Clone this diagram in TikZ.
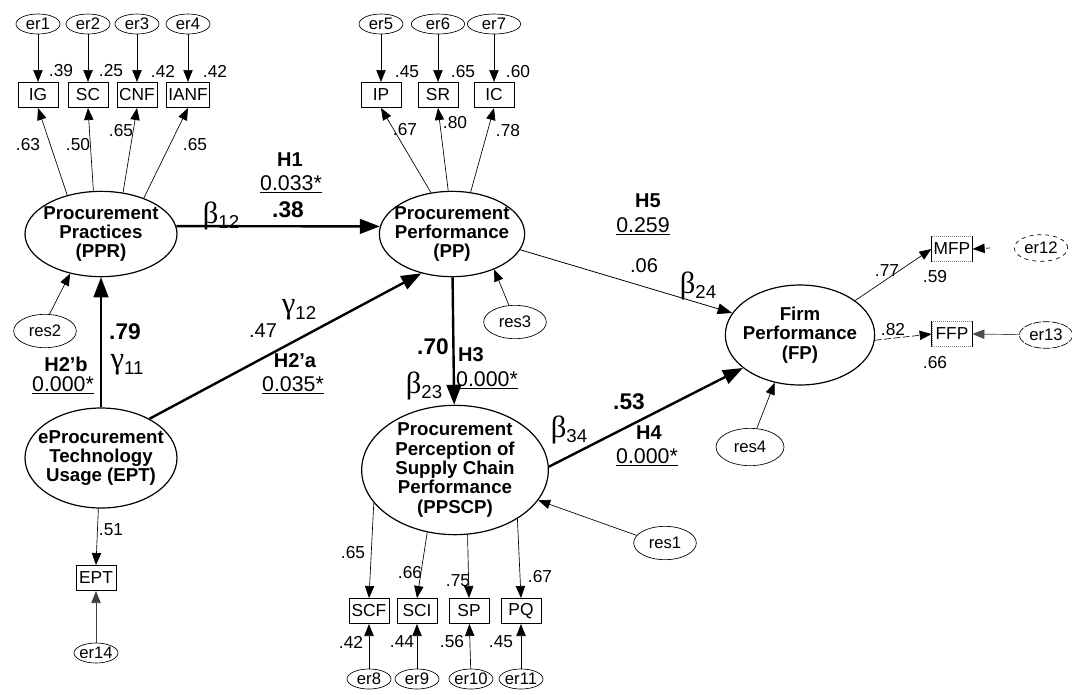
\documentclass[tikz,border=0pt]{standalone}
\usepackage{fontspec}
\setmainfont{Liberation Sans}
\newfontfamily\grkfont{Liberation Serif}
\usetikzlibrary{arrows.meta,shapes.geometric}

% greek path symbol with a sans subscript
\newcommand{\pathsym}[2]{{\grkfont\fontsize{23}{23}\selectfont #1}{\fontsize{14}{14}\selectfont\raisebox{-4pt}{#2}}}

\begin{document}
\begin{tikzpicture}[x=0.75pt, y=-0.75pt, >={Triangle[length=9pt, width=7pt]},
    lat/.style={ellipse, draw, line width=0.9pt, align=center, inner sep=-20pt,
      font=\fontsize{14}{14.5}\selectfont\bfseries},
    obs/.style={rectangle, draw, line width=0.5pt, minimum width=30pt, minimum height=19pt,
      inner sep=1.5pt, font=\fontsize{13}{13}\selectfont},
    err/.style={ellipse, draw, line width=0.5pt, minimum width=33pt, minimum height=15pt,
      inner sep=-5pt, font=\fontsize{12.5}{13}\selectfont},
    res/.style={err, minimum width=47pt, minimum height=25pt},
    lbl/.style={inner sep=0pt, font=\fontsize{13}{13}\selectfont},
    coef/.style={inner sep=0pt, font=\fontsize{17}{17}\selectfont\bfseries},
    hyp/.style={inner sep=0pt, font=\fontsize{15}{15}\selectfont\bfseries},
    pval/.style={inner sep=0pt, font=\fontsize{16}{16}\selectfont},
    struct/.style={line width=1.8pt, -{Triangle[length=15pt, width=11pt]}},
    weak/.style={line width=0.6pt, -{Triangle[length=11pt, width=8pt]}},
    load/.style={line width=0.5pt, ->}]

    \useasboundingbox (0,0) rectangle (1072,694);

    % latent constructs
    \node[lat, minimum width=114pt, minimum height=64pt] (PPR) at (101,234) {Procurement\\Practices\\(PPR)};
    \node[lat, minimum width=109pt, minimum height=64pt] (PP) at (452,234) {Procurement\\Performance\\(PP)};
    \node[lat, minimum width=112pt, minimum height=75pt] (FP) at (800,335) {Firm\\Performance\\(FP)};
    \node[lat, minimum width=114pt, minimum height=75pt] (EPT) at (101,458) {eProcurement\\Technology\\Usage (EPT)};
    \node[lat, minimum width=140pt, minimum height=97pt] (PPSCP) at (455,470) {Procurement\\Perception of\\Supply Chain\\Performance\\(PPSCP)};

    % PPR indicators
    \node[obs] (IG) at (38,95) {IG};
    \node[obs] (SC) at (88,95) {SC};
    \node[obs] (CNF) at (137,95) {CNF};
    \node[obs] (IANF) at (188,95) {IANF};
    \node[err] (er1) at (38,24) {er1};
    \node[err] (er2) at (88,24) {er2};
    \node[err] (er3) at (137,24) {er3};
    \node[err] (er4) at (188,24) {er4};
    \draw[load] (er1) -- (IG);
    \draw[load] (er2) -- (SC);
    \draw[load] (er3) -- (CNF);
    \draw[load] (er4) -- (IANF);
    \draw[load] (PPR.131) -- (IG.south);
    \draw[load] (PPR.100) -- (SC.south);
    \draw[load] (PPR.62) -- (CNF.south);
    \draw[load] (PPR.40) -- (IANF.south);
    \node[lbl] (vIG) at (61,71) {.39};
    \node[lbl] (vSC) at (111,71) {.25};
    \node[lbl] (vCNF) at (163,71) {.42};
    \node[lbl] (vIANF) at (215,71) {.42};
    \node[lbl] (wIG) at (28,145) {.63};
    \node[lbl] (wSC) at (78,145) {.50};
    \node[lbl] (wCNF) at (121,131) {.65};
    \node[lbl] (wIANF) at (195,145) {.65};

    % PP indicators
    \node[obs] (IP) at (381,95) {IP};
    \node[obs] (SR) at (438,95) {SR};
    \node[obs] (IC) at (494,95) {IC};
    \node[err] (er5) at (381,24) {er5};
    \node[err, minimum width=40pt] (er6) at (438,24) {er6};
    \node[err, minimum width=40pt] (er7) at (494,24) {er7};
    \draw[load] (er5) -- (IP);
    \draw[load] (er6) -- (SR);
    \draw[load] (er7) -- (IC);
    \draw[load] (PP.117) -- (IP.south);
    \draw[load] (PP.95) -- (SR.south);
    \draw[load] (PP.66) -- (IC.south);
    \node[lbl] (vIP) at (407,72) {.45};
    \node[lbl] (vSR) at (463,72) {.65};
    \node[lbl] (vIC) at (518,72) {.60};
    \node[lbl] (wIP) at (405,130) {.67};
    \node[lbl] (wSR) at (455,123) {.80};
    \node[lbl] (wIC) at (508,131) {.78};

    % FP indicators
    \node[obs, draw=gray, densely dotted] (MFP) at (952,249) {MFP};
    \node[obs, draw=gray, densely dotted] (FFP) at (952,334) {FFP};
    \draw (MFP.north west) -- (MFP.south west) (MFP.north east) -- (MFP.south east);
    \draw (FFP.north west) -- (FFP.south west) (FFP.north east) -- (FFP.south east);
    \node[err, dashed, minimum width=40pt, minimum height=20pt] (er12) at (1041,248) {er12};
    \node[err, dash pattern=on 6pt off 1pt, minimum width=40pt, minimum height=20pt] (er13) at (1046,335) {er13};
    \coordinate (e12tail) at (990,248);
    \draw[load, densely dashed] (e12tail) -- (MFP.east);
    \draw[load, black!70] (er13) -- (FFP.east);
    \draw[load] (FP.32) -- (MFP.west);
    \draw[load, dash pattern=on 5pt off 2pt] (FP.-4) -- (FFP.west);
    \node[lbl] (wMFP) at (887,271) {.77};
    \node[lbl] (vMFP) at (935,277) {.59};
    \node[lbl] (wFFP) at (893,330) {.82};
    \node[lbl] (vFFP) at (935,363) {.66};

    % EPT indicator
    \node[obs] (EPTi) at (96,578) {EPT};
    \node[err] (er14) at (96,653) {er14};
    \draw[load] (EPT.-93) -- (EPTi.north);
    \draw[load, black!75] (er14) -- (EPTi);
    \node[lbl] (wEPT) at (111,530) {.51};

    % PPSCP indicators
    \node[obs] (SCF) at (369,611) {SCF};
    \node[obs] (SCI) at (417,611) {SCI};
    \node[obs] (SP) at (469,611) {SP};
    \node[obs] (PQ) at (521,611) {PQ};
    \node[err] (er8) at (369,679) {er8};
    \node[err] (er9) at (417,679) {er9};
    \node[err] (er10) at (471,679) {er10};
    \node[err] (er11) at (521,679) {er11};
    \draw[load] (er8) -- (SCF);
    \draw[load] (er9) -- (SCI);
    \draw[load] (er10) -- (SP);
    \draw[load] (er11) -- (PQ);
    \draw[load] (PPSCP.202) -- (SCF.north);
    \draw[load] (PPSCP.246) -- (SCI.north);
    \draw[load] (PPSCP.281) -- (SP.north);
    \draw[load] (PPSCP.322) -- (PQ.north);
    \node[lbl] (wSCF) at (353,553) {.65};
    \node[lbl] (wSCI) at (410,573) {.66};
    \node[lbl] (wSP) at (458,581) {.75};
    \node[lbl] (wPQ) at (540,577) {.67};
    \node[lbl] (vSCF) at (351,642) {.42};
    \node[lbl] (vSCI) at (402,642) {.44};
    \node[lbl] (vSP) at (452,642) {.56};
    \node[lbl] (vPQ) at (501,642) {.45};

    % residuals
    \node[res] (res2) at (45,331) {res2};
    \node[res] (res3) at (515,322) {res3};
    \node[res, minimum width=51pt, minimum height=28pt] (res4) at (750,447) {res4};
    \node[res] (res1) at (665,543) {res1};
    \draw[load] (res2.75) -- (PPR.232);
    \draw[load] (res3.110) -- (PP.-40);
    \draw[load] (res4.70) -- (FP.-118);
    \draw[load] (res1.165) -- (PPSCP.-20);

    % structural paths
    \draw[struct] (PPR.6) -- (PP.174);
    \draw[struct] (EPT) -- (PPR);
    \draw[struct] (EPT.39) -- (PP.232);
    \draw[struct] (PP) -- (PPSCP);
    \draw[struct] (PPSCP.2) -- (FP.210);
    \draw[weak] (PP.-13) -- (FP.162);

    % H1
    \node[hyp] (h1) at (290,160) {H1};
    \node[pval] (p1) at (291,184) {\underline{0.033*}};
    \node[coef] (c1) at (288,210) {.38};
    \node (b12) at (221,216) {\pathsym{β}{12}};
    % H2'b
    \node[hyp] (h2b) at (66,364) {H2’b};
    \node[pval] (p2b) at (63,385) {\underline{0.000*}};
    \node[coef] (c2b) at (125,332) {.79};
    \node (g11) at (127,365) {\pathsym{γ}{11}};
    % H2'a
    \node[hyp] (h2a) at (295,361) {H2’a};
    \node[pval] (p2a) at (293,385) {\underline{0.035*}};
    \node[lbl, font=\fontsize{15}{15}\selectfont] (c2a) at (263,331) {.47};
    \node (g12) at (299,310) {\pathsym{γ}{12}};
    % H3
    \node[hyp] (h3) at (471,355) {H3};
    \node[pval] (p3) at (487,380) {\underline{0.000*}};
    \node[coef] (c3) at (433,347) {.70};
    \node (b23) at (424,386) {\pathsym{β}{23}};
    % H4
    \node[hyp] (h4) at (649,433) {H4};
    \node[pval] (p4) at (647,457) {\underline{0.000*}};
    \node[coef] (c4) at (629,402) {.53};
    \node (b34) at (569,430) {\pathsym{β}{34}};
    % H5
    \node[hyp] (h5) at (648,201) {H5};
    \node[pval] (p5) at (643,226) {\underline{0.259}};
    \node[lbl, font=\fontsize{15}{15}\selectfont] (c5) at (644,266) {.06};
    \node (b24) at (698,286) {\pathsym{β}{24}};
\end{tikzpicture}
\end{document}
